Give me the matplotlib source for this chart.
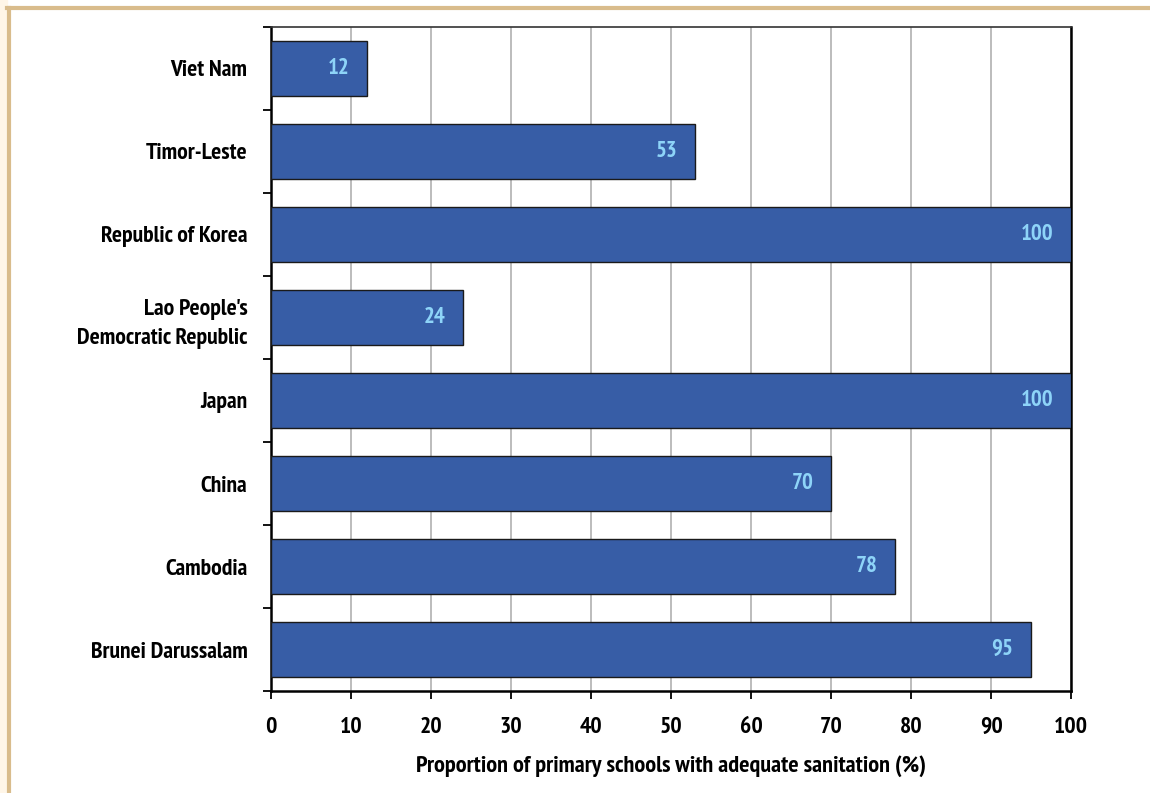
import matplotlib.pyplot as plt
from matplotlib.patches import Rectangle
from matplotlib.lines import Line2D

countries = ["Brunei Darussalam", "Cambodia", "China", "Japan",
             "Lao People's\nDemocratic Republic", "Republic of Korea",
             "Timor-Leste", "Viet Nam"]
values = [95, 78, 70, 100, 24, 100, 53, 12]
xticks = [0, 10, 20, 30, 40, 50, 60, 70, 80, 90, 100]

plt.rcParams['font.family'] = ['PT Sans Narrow', 'DejaVu Sans']
plt.rcParams['font.weight'] = 'bold'

fig = plt.figure(figsize=(11.5, 7.93), dpi=100)
ax = fig.add_axes([0.2357, 0.1286, 0.6956, 0.8374])

# outer frame: cream strip on the left, tan border lines
fig.patches.append(Rectangle((0, 0), 7 / 1150, 1, transform=fig.transFigure,
                             color="#FFF6E8", zorder=0))
fig.lines.append(Line2D([8.5 / 1150, 8.5 / 1150], [0, 1 - 7.5 / 793],
                        transform=fig.transFigure, color="#D9BC8C", lw=3))
fig.lines.append(Line2D([7 / 1150, 1], [1 - 7.5 / 793, 1 - 7.5 / 793],
                        transform=fig.transFigure, color="#D9BC8C", lw=3))

ypos = list(range(len(countries)))
ax.barh(ypos, values, height=0.67, color="#375DA6", edgecolor="#1a1a1a",
        linewidth=1.0, zorder=3)
for y, v in zip(ypos, values):
    ax.text(v - 2.2, y, str(v), ha="right", va="center", color="#8ED4F8",
            fontsize=16.5, fontweight="bold", zorder=4)

ax.set_xlim(0, 100)
ax.set_ylim(-0.5, len(countries) - 0.5)
ax.set_xticks(xticks)
ax.set_xticklabels([str(t) for t in xticks], fontsize=17, fontweight="bold")
ax.set_yticks([y - 0.5 for y in range(len(countries) + 1)])
ax.set_yticklabels([])
ax.set_yticks(ypos, minor=True)
ax.set_yticklabels(countries, minor=True, fontsize=17, fontweight="bold",
                   linespacing=1.5)
ax.tick_params(axis="y", which="minor", length=0, pad=17)
ax.tick_params(axis="y", which="major", length=6, width=1.3, direction="out")
ax.tick_params(axis="x", length=6, width=1.3, direction="out", pad=13)
for lbl in ax.get_yticklabels(minor=True):
    lbl.set_horizontalalignment("right")
    lbl.set_multialignment("right")

ax.grid(axis="x", color="#b0b0b0", linewidth=1.2, zorder=0)
ax.set_axisbelow(True)
for side in ["left", "bottom", "right"]:
    ax.spines[side].set_linewidth(1.8)
    ax.spines[side].set_color("black")
ax.spines["top"].set_linewidth(1.2)
ax.spines["top"].set_color("#333333")

ax.set_xlabel("Proportion of primary schools with adequate sanitation (%)",
              fontsize=17.5, fontweight="bold", labelpad=12)

fig.savefig("out.png", dpi=100)
